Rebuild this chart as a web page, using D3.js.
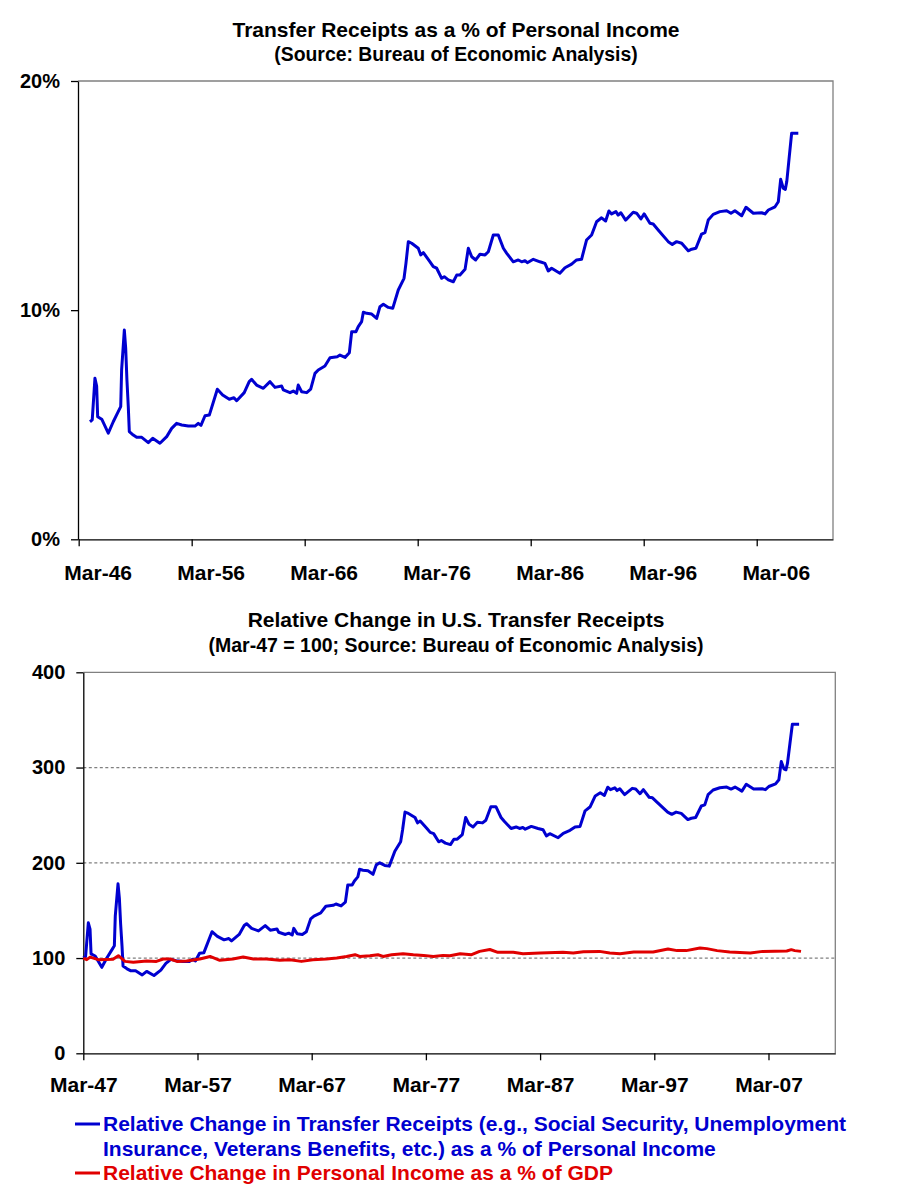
<!DOCTYPE html>
<html><head><meta charset="utf-8">
<script src="https://cdn.jsdelivr.net/npm/d3@7"></script>
<style>
body{margin:0;background:#fff}
text{font-family:"Liberation Sans",Arial,sans-serif;font-weight:bold}
</style>
</head><body>
<svg id="c" width="912" height="1199"></svg>
<script>
// Transfer receipts as % of personal income (vertices, decimal years)
const topYears = [1947.00,1947.20,1947.44,1947.59,1947.68,1948.04,1948.62,1949.06,1949.50,1949.72,1949.80,1950.04,1950.16,1950.27,1950.39,1950.48,1950.83,1951.13,1951.58,1952.16,1952.55,1953.19,1953.79,1954.23,1954.67,1955.12,1955.70,1956.29,1956.58,1956.82,1957.18,1957.56,1958.27,1958.74,1959.33,1959.74,1959.98,1960.65,1961.09,1961.30,1961.74,1962.34,1962.93,1963.37,1963.96,1964.11,1964.70,1964.99,1965.29,1965.43,1965.73,1966.18,1966.53,1966.91,1967.20,1967.79,1968.24,1968.88,1969.12,1969.57,1969.95,1970.16,1970.54,1970.74,1971.04,1971.19,1971.49,1971.93,1972.37,1972.66,1972.96,1973.40,1973.79,1974.28,1974.79,1974.96,1975.17,1975.47,1976.05,1976.27,1976.50,1977.09,1977.38,1977.68,1978.12,1978.35,1978.71,1979.15,1979.45,1979.74,1980.19,1980.48,1980.78,1981.13,1981.51,1981.96,1982.25,1982.69,1983.13,1983.58,1983.88,1984.46,1984.90,1985.20,1985.49,1985.70,1986.23,1986.82,1987.26,1987.55,1987.85,1988.58,1989.03,1989.62,1990.06,1990.50,1990.94,1991.39,1991.83,1992.27,1992.63,1992.92,1993.16,1993.54,1993.74,1993.98,1994.40,1995.07,1995.37,1995.75,1996.04,1996.55,1996.84,1997.28,1998.17,1998.53,1998.91,1999.36,1999.94,2000.24,2000.62,2001.12,2001.42,2001.71,2002.15,2002.74,2003.34,2003.72,2004.07,2004.67,2005.05,2005.70,2006.44,2006.73,2007.03,2007.62,2007.91,2008.12,2008.35,2008.53,2008.66,2008.88,2009.09,2009.39,2009.68];
const topValues = [5.13,5.21,7.03,6.69,5.35,5.24,4.63,5.13,5.57,5.79,7.39,9.13,8.34,6.95,5.79,4.70,4.55,4.45,4.45,4.22,4.41,4.19,4.48,4.84,5.06,4.99,4.94,4.94,5.06,4.97,5.39,5.42,6.55,6.30,6.11,6.18,6.05,6.40,6.88,6.98,6.73,6.59,6.88,6.63,6.69,6.52,6.40,6.47,6.37,6.73,6.44,6.40,6.55,7.24,7.39,7.56,7.92,7.97,8.04,7.94,8.14,9.06,9.06,9.28,9.50,9.91,9.86,9.83,9.64,10.15,10.26,10.12,10.08,10.88,11.39,12.04,12.99,12.92,12.70,12.41,12.51,12.11,11.90,11.83,11.39,11.46,11.32,11.24,11.53,11.53,11.78,12.70,12.33,12.19,12.44,12.41,12.55,13.28,13.28,12.70,12.48,12.11,12.19,12.11,12.16,12.07,12.22,12.11,12.04,11.71,11.83,11.61,11.85,12.01,12.19,12.22,13.06,13.28,13.86,14.03,13.89,14.33,14.20,14.30,14.15,14.25,13.93,14.27,14.23,13.98,14.20,13.79,13.76,13.50,12.99,12.87,12.99,12.92,12.59,12.66,12.70,13.32,13.38,13.93,14.18,14.30,14.34,14.23,14.34,14.12,14.49,14.23,14.25,14.20,14.37,14.51,14.73,15.71,15.32,15.27,15.61,16.70,17.72,17.72,17.72];

// Personal income as % of GDP, relative change (Mar-47 = 100)
const redYears = [1947.0,1947.3,1947.6,1948.3,1949.0,1949.6,1950.07,1950.65,1951.38,1952.55,1953.4,1954.0,1954.6,1955.2,1956.05,1957.2,1958.1,1958.95,1960.1,1961.0,1961.9,1963.05,1964.2,1965.1,1966.1,1967.1,1968.3,1969.2,1970.05,1970.8,1971.2,1972.1,1972.8,1973.25,1974.0,1975.0,1975.9,1976.8,1977.65,1978.5,1979.1,1980.0,1981.0,1981.7,1982.6,1983.3,1984.65,1985.5,1987.0,1989.0,1989.9,1990.8,1992.2,1993.1,1994.0,1995.2,1996.9,1998.2,1999.0,1999.8,2001.0,2001.6,2002.5,2003.6,2005.4,2006.5,2008.6,2009.0,2009.3,2009.85];
const redValues = [100,98.3,101,98.3,98.5,98.8,102.5,96.5,95.5,97,96.5,99,99,96.5,97,99,101.7,97.6,99,101,99,99,97.6,98.3,96.5,98.3,99,100,101.7,103.5,101.7,102.5,103.5,101.7,103.5,104.5,103.5,102.8,101.7,102.8,102.5,104.5,103.5,107,109,106,106,104.5,105.3,106,105.3,106.7,107,105.3,104.5,106.3,106.3,109.5,107.8,107.8,110.6,109.9,107.8,106.3,105.3,107,107.4,108.8,107.8,107];

const topTickYears = [1946,1956,1966,1976,1986,1996,2006];
const topTickLabels = ["Mar-46","Mar-56","Mar-66","Mar-76","Mar-86","Mar-96","Mar-06"];
const botTickYears = [1947,1957,1967,1977,1987,1997,2007];
const botTickLabels = ["Mar-47","Mar-57","Mar-67","Mar-77","Mar-87","Mar-97","Mar-07"];
const topYTicks = [0,10,20];
const botYTicks = [0,100,200,300,400];
const botGridTicks = [100,200,300];
const titles = ["Transfer Receipts as a % of Personal Income","(Source: Bureau of Economic Analysis)","Relative Change in U.S. Transfer Receipts","(Mar-47 = 100; Source: Bureau of Economic Analysis)"];
const legendBlue = ["Relative Change in Transfer Receipts (e.g., Social Security, Unemployment","Insurance, Veterans Benefits, etc.) as a % of Personal Income"];
const legendRed = ["Relative Change in Personal Income as a % of GDP"];

const BLUE = "#0000D0", RED = "#E00000", GRAY = "#808080";
const svg = d3.select("#c");
svg.append("rect").attr("width",912).attr("height",1199).attr("fill","#fff");

// index series: transfer receipts share relative to Mar-47 (= 100)
const blueIndex = topValues.map(v => v / topValues[0] * 100);

// ---------- TOP CHART ----------
const T = {l:78, r:833, t:81, b:539.3};
const xTop = d3.scaleLinear().domain([1945.94, 2012.75]).range([T.l, T.r]);
const yTop = d3.scaleLinear().domain([0,20]).range([T.b, T.t]);

svg.append("text").attr("x",456).attr("y",37).attr("text-anchor","middle").attr("font-size",21).text(titles[0]);
svg.append("text").attr("x",456).attr("y",61).attr("text-anchor","middle").attr("font-size",19.4).text(titles[1]);

svg.append("path").attr("d",`M${T.l},${T.t}H${T.r}V${T.b}`).attr("fill","none").attr("stroke",GRAY).attr("stroke-width",1.3);

const gxT = svg.append("g").attr("class","xax").attr("transform",`translate(0,${T.b})`)
  .call(d3.axisBottom(xTop).tickValues(topTickYears).tickSize(7).tickSizeOuter(0).tickPadding(19)
    .tickFormat((d,i)=>topTickLabels[i]));
gxT.selectAll("text").attr("dx",19);
svg.append("g").attr("class","yax").attr("transform",`translate(${T.l},0)`)
  .call(d3.axisLeft(yTop).tickValues(topYTicks).tickSize(7).tickSizeOuter(0).tickPadding(11).tickFormat(d=>d+"%"));

svg.append("path").datum(topYears.map((y,i)=>[y,topValues[i]]))
  .attr("d", d3.line().x(d=>xTop(d[0])).y(d=>yTop(d[1])))
  .attr("fill","none").attr("stroke",BLUE).attr("stroke-width",3).attr("stroke-linejoin","round");

// ---------- BOTTOM CHART ----------
const B = {l:83.3, r:835.3, t:672.3, b:1053.3};
const xBot = d3.scaleLinear().domain([1947, 2012.85]).range([B.l, B.r]);
const yBot = d3.scaleLinear().domain([0,400]).range([B.b, B.t]);

svg.append("text").attr("x",456).attr("y",627).attr("text-anchor","middle").attr("font-size",21).text(titles[2]);
svg.append("text").attr("x",456).attr("y",652).attr("text-anchor","middle").attr("font-size",19.5).text(titles[3]);

svg.selectAll(".grid").data(botGridTicks).enter().append("line")
  .attr("x1",B.l).attr("x2",B.r).attr("y1",d=>yBot(d)).attr("y2",d=>yBot(d))
  .attr("stroke",GRAY).attr("stroke-width",1.2).attr("stroke-dasharray","3,2.5");
svg.append("path").attr("d",`M${B.l},${B.t}H${B.r}V${B.b}`).attr("fill","none").attr("stroke",GRAY).attr("stroke-width",1.3);

svg.append("g").attr("class","xax").attr("transform",`translate(0,${B.b})`)
  .call(d3.axisBottom(xBot).tickValues(botTickYears).tickSize(7).tickSizeOuter(0).tickPadding(17)
    .tickFormat((d,i)=>botTickLabels[i]));
svg.append("g").attr("class","yax").attr("transform",`translate(${B.l},0)`)
  .call(d3.axisLeft(yBot).tickValues(botYTicks).tickSize(7).tickSizeOuter(0).tickPadding(11));

svg.append("path").datum(topYears.map((y,i)=>[y,blueIndex[i]]))
  .attr("d", d3.line().x(d=>xBot(d[0])).y(d=>yBot(d[1])))
  .attr("fill","none").attr("stroke",BLUE).attr("stroke-width",3).attr("stroke-linejoin","round");
svg.append("path").datum(redYears.map((y,i)=>[y,redValues[i]]))
  .attr("d", d3.line().x(d=>xBot(d[0])).y(d=>yBot(d[1])))
  .attr("fill","none").attr("stroke",RED).attr("stroke-width",3).attr("stroke-linejoin","round");

// axis styling
svg.selectAll(".tick text").attr("fill","#000")
  .attr("font-family","'Liberation Sans',Arial,sans-serif").attr("font-weight","bold");
svg.selectAll(".xax .tick text").attr("font-size",21);
svg.selectAll(".yax .tick text").attr("font-size",20);
svg.selectAll(".domain").attr("stroke","#000").attr("stroke-width",1.3);
svg.selectAll(".tick line").attr("stroke","#000").attr("stroke-width",1.3);

// ---------- LEGEND ----------
const legend = svg.append("g");
legend.append("line").attr("x1",75).attr("x2",100).attr("y1",1124).attr("y2",1124).attr("stroke",BLUE).attr("stroke-width",3);
legendBlue.forEach((t,i)=>legend.append("text").attr("x",103).attr("y",1131+i*25).attr("font-size",21).attr("fill",BLUE).text(t));
legend.append("line").attr("x1",75).attr("x2",100).attr("y1",1173).attr("y2",1173).attr("stroke",RED).attr("stroke-width",3);
legendRed.forEach((t,i)=>legend.append("text").attr("x",103).attr("y",1180+i*25).attr("font-size",21).attr("fill",RED).text(t));
</script>
</body></html>
